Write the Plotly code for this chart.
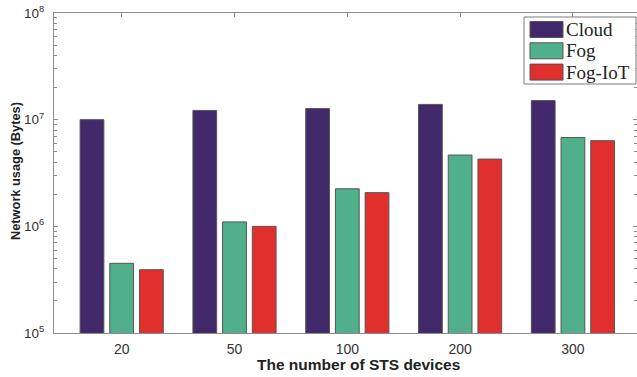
import plotly.graph_objects as go

categories = ["20", "50", "100", "200", "300"]
cloud = [1.0e7, 1.22e7, 1.27e7, 1.39e7, 1.51e7]
fog = [4.5e5, 1.10e6, 2.25e6, 4.66e6, 6.8e6]
fog_iot = [3.92e5, 1.0e6, 2.07e6, 4.27e6, 6.35e6]
series_names = ["Cloud", "Fog", "Fog-IoT"]
colors = ["#42296B", "#50B08C", "#E02F2C"]
x_title = "The number of STS devices"
y_title = "Network usage (Bytes)"

fig = go.Figure()
for name, vals, col in zip(series_names, [cloud, fog, fog_iot], colors):
    fig.add_trace(go.Bar(x=categories, y=vals, name=name, marker_color=col,
                         marker_line=dict(color="#555555", width=1), showlegend=False))

axis_col = "#8c8c8c"
fig.update_layout(
    width=637, height=377,
    margin=dict(l=54, r=0, t=13, b=44),
    plot_bgcolor="white", paper_bgcolor="white",
    barmode="group", bargap=0.21, bargroupgap=0.2,
    font=dict(family="Arial, Liberation Sans", color="#333333", size=14),
    xaxis=dict(type="category", range=[-0.6, 4.568], showline=True, linecolor=axis_col,
               linewidth=1, mirror="ticks", ticks="inside", ticklen=4, tickcolor=axis_col,
               ticklabelstandoff=3, tickfont=dict(size=14), automargin=False),
    yaxis=dict(type="log", range=[5, 8], showline=True, linecolor=axis_col, linewidth=1,
               mirror="ticks", ticks="inside", ticklen=4, tickcolor=axis_col,
               tickvals=[1e5, 1e6, 1e7, 1e8],
               ticktext=["10<sup>5</sup>", "10<sup>6</sup>", "10<sup>7</sup>", "10<sup>8</sup>"],
               minor=dict(ticks="inside", ticklen=3, tickcolor=axis_col, dtick="D1"),
               showgrid=False, tickfont=dict(size=13.5), ticklabelstandoff=6, automargin=False),
)

def px(x):
    return (x - 54) / (637 - 54)
def py(y):
    return 1 - (y - 13) / (333 - 13)

# axis titles
fig.add_annotation(xref="paper", yref="paper", x=px(358), y=py(364), text="<b>" + x_title + "</b>",
                   showarrow=False, xanchor="center", yanchor="middle",
                   font=dict(size=15.5, color="#222"))
fig.add_annotation(xref="paper", yref="paper", x=px(15), y=py(171), text="<b>" + y_title + "</b>",
                   showarrow=False, xanchor="center", yanchor="middle", textangle=-90,
                   font=dict(size=12.8, color="#222"))

# legend drawn manually
lx0, lx1, ly0, ly1 = 524, 636, 17, 84
fig.add_shape(type="rect", xref="paper", yref="paper", x0=px(lx0), x1=px(lx1), y0=py(ly1), y1=py(ly0),
              line=dict(color="#7a7a7a", width=1), fillcolor="white", layer="above")
for i, (name, col) in enumerate(zip(series_names, colors)):
    yc = 29.5 + i * 21.3
    fig.add_shape(type="rect", xref="paper", yref="paper", x0=px(530), x1=px(563),
                  y0=py(yc + 8), y1=py(yc - 8), line=dict(color="#555", width=1), fillcolor=col, layer="above")
    fig.add_annotation(xref="paper", yref="paper", x=px(564), y=py(yc), text=name, showarrow=False,
                       xanchor="left", yanchor="middle",
                       font=dict(family="Liberation Serif, Times New Roman", size=19, color="#222"))

fig.write_html("out.html", config={"displayModeBar": False},
               post_script="document.body.style.margin='0';document.body.style.overflow='hidden';")
